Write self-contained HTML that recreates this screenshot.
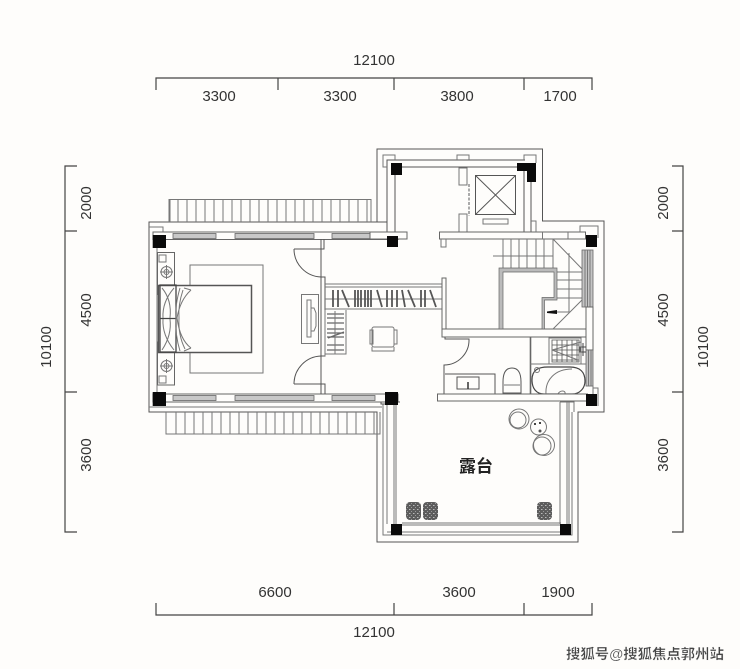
<!DOCTYPE html>
<html><head><meta charset="utf-8"><style>
html,body{margin:0;padding:0;background:#fefdfb;width:740px;height:669px;overflow:hidden}
svg{display:block}
text{font-family:"Liberation Sans","Noto Sans CJK SC",sans-serif;fill:#333;font-size:15px;text-anchor:middle}
.l{stroke:#555;stroke-width:1;fill:none}
.t{stroke:#777;stroke-width:1;fill:none}
.g{fill:#c8c8c8;stroke:#666;stroke-width:.8}
.w{fill:#fefdfb;stroke:#666;stroke-width:1}
.k{fill:#0a0a0a}
.d{stroke:#444;stroke-width:1.200;fill:none}
</style></head><body>
<svg width="740" height="669" viewBox="0 0 740 669" xmlns="http://www.w3.org/2000/svg">
<defs>
<pattern id="pl" width="4" height="4" patternUnits="userSpaceOnUse">
<rect width="4" height="4" fill="#5c5c5c"/><rect x="1" y="1" width="1.500" height="1" fill="#bbb"/><rect x="3" y="3" width="1" height="1" fill="#999"/>
</pattern>
</defs>
<!-- dimensions -->
<g class="d">
<path d="M156 90V78H592V90M278 78V90M394 78V90M524 78V90"/>
<path d="M156 603V615H592V603M394 603V615M524 603V615"/>
<path d="M77 166H65V532H77M65 231H77M65 392H77"/>
<path d="M672 166H683V532H672M672 231H683M672 392H683"/>
</g>
<text x="374" y="65">12100</text>
<text x="219" y="101">3300</text><text x="340" y="101">3300</text><text x="457" y="101">3800</text><text x="560" y="101">1700</text>
<text x="275" y="597">6600</text><text x="459" y="597">3600</text><text x="558" y="597">1900</text>
<text x="374" y="637">12100</text>
<g>
<text transform="translate(91,203) rotate(-90)">2000</text>
<text transform="translate(91,310) rotate(-90)">4500</text>
<text transform="translate(91,455) rotate(-90)">3600</text>
<text transform="translate(51,347) rotate(-90)">10100</text>
<text transform="translate(668,203) rotate(-90)">2000</text>
<text transform="translate(668,310) rotate(-90)">4500</text>
<text transform="translate(668,455) rotate(-90)">3600</text>
<text transform="translate(708,347) rotate(-90)">10100</text>
</g>

<!-- outer outline -->
<path class="l" d="M387 222H149V412H377V542H578V412H604V221H542.500V149H377V222"/>
<path class="t" d="M149 227H163V232M157 248V392M149 407H382"/>
<!-- upper balcony -->
<path class="t" d="M169 222V199.500H371V222M170 200V222"/>
<path class="t" d="M178 200V222M187 200V222M196 200V222M205 200V222M214 200V222M223 200V222M232 200V222M241 200V222M250 200V222M259 200V222M268 200V222M277 200V222M286 200V222M295 200V222M304 200V222M313 200V222M322 200V222M331 200V222M340 200V222M349 200V222M358 200V222M367 200V222"/>
<!-- lower balcony -->
<path class="t" d="M166 412V434H380V412"/>
<path class="t" d="M176 412V434M185 412V434M194 412V434M203 412V434M212 412V434M221 412V434M230 412V434M239 412V434M248 412V434M257 412V434M266 412V434M275 412V434M284 412V434M293 412V434M302 412V434M311 412V434M320 412V434M329 412V434M338 412V434M347 412V434M356 412V434M365 412V434M374 412V434"/>
<!-- bedroom windows -->
<rect x="153" y="232" width="245" height="7.500" class="w"/>
<rect x="173" y="233.500" width="43" height="5" class="g"/><rect x="235" y="233.500" width="79" height="5" class="g"/><rect x="332" y="233.500" width="43" height="5" class="g"/>
<rect x="153" y="394" width="245" height="8" class="w"/>
<rect x="173" y="395.500" width="43" height="5" class="g"/><rect x="235" y="395.500" width="79" height="5" class="g"/><rect x="332" y="395.500" width="43" height="5" class="g"/>
<!-- door wall -->
<path class="l" d="M321 239V394M321 249H324V239M321 277H325V356H321M321 384H325V394"/>
<path class="l" d="M294 249H321M294 249A28 28 0 0 0 321 277"/>
<path class="l" d="M294 384H321M294 384A28 28 0 0 1 321 356"/>
<!-- tv -->
<rect x="301.500" y="294.500" width="17" height="49" class="t"/>
<path class="t" d="M307 300H311V337H307ZM311 308H314L316 313V326L314 331H311"/>
<!-- rug -->
<rect x="190" y="265" width="73" height="108" class="t"/>
<rect x="157.500" y="252.500" width="17" height="42" class="w"/>
<rect x="157.500" y="342" width="17" height="43" class="w"/>
<rect x="159" y="255" width="7" height="7" class="t"/><rect x="159" y="376" width="7" height="7" class="t"/>
<circle cx="166.500" cy="272" r="5.500" class="t"/><circle cx="166.500" cy="272" r="2.500" class="t"/><path class="t" d="M160 272H173M166.500 265V279"/>
<circle cx="166.500" cy="366" r="5.500" class="t"/><circle cx="166.500" cy="366" r="2.500" class="t"/><path class="t" d="M160 366H173M166.500 359V373"/>
<!-- bed -->
<rect x="158.500" y="285.500" width="93" height="67" fill="#fefdfb" stroke="#555" stroke-width="1.500"/>
<path d="M160 285H176V352H160ZM160 318.500H176" fill="none" stroke="#444" stroke-width="1.300"/>
<path class="t" d="M162 288Q172 300 170 318M162 350Q172 335 170 319M174 288Q162 302 163 318M174 350Q162 335 163 319M180 288Q175 305 176 318Q175 335 180 351M191 290Q180 300 177 318Q180 340 191 348M184 288L191 290M184 351L191 348M183 290Q178 305 179 318Q178 335 185 349"/>
<!-- closets -->
<path class="t" d="M325 284H442M325 287H442M325 309H442M325 299H442"/>
<path d="M333 290V307M338 290V307M342 290L349 307M355 290V307M358 290V307M361 290V307M365 290V307M368 290V307M371 290V307M377 290L382 307M387 290V307M392 290V307M397 290V307M402 290L405 307M408 290L415 307M421 290V307M425 290V307M430 290L436 307" stroke="#555" stroke-width="1.800" fill="none"/>
<path class="t" d="M325 310V356M346 310V354H325"/>
<path d="M327 314H344M327 318H344M327 323H344M327 329H344M327 333H344M327 337H344M328 338L344 332M327 345H344M327 350H344" stroke="#666" stroke-width="1.300" fill="none"/>
<path class="t" d="M335 311V354"/>
<!-- chair -->
<rect x="372" y="327" width="22" height="20" rx="2" class="t"/>
<rect x="370" y="330" width="3" height="14" class="t"/><rect x="394" y="330" width="3" height="14" class="t"/>
<path class="t" d="M372 347V351H394V347"/>
<!-- corridor wall -->
<rect x="442" y="278" width="4" height="51" class="w"/>
<rect x="442" y="329" width="144" height="8" class="w"/>
<!-- core -->
<path class="l" d="M387 239V160H525M395 167V236M402 167H517M524 171V232M531 182V232"/>
<rect x="370" y="232" width="37" height="7" class="w"/>
<path class="t" d="M383 160V155H395V160M383 155V167H387M457 160V155H469V160M524 160V155H536V163"/>
<rect x="459" y="168" width="8" height="17" class="t"/>
<rect x="459" y="214" width="8" height="18" class="t"/>
<path d="M469 184V216" stroke="#aaa" stroke-width="2" stroke-dasharray="3 1.500"/>
<rect x="475.500" y="175.500" width="40" height="39" class="l"/>
<path class="l" d="M475.500 175.500L515.500 214.500M515.500 175.500L475.500 214.500"/>
<rect x="483" y="219" width="25" height="5" class="t"/>
<rect x="439.500" y="232" width="146" height="7" class="w"/>
<path class="t" d="M441 239V247H446V239M531 221H536V232M542.500 232V239M568 232V239"/>
<path class="t" d="M580 232V226H598V238"/>
<!-- stairs -->
<path class="t" d="M503 239V268M511 239V268M519 239V268M527 239V268M536 239V268M544 239V268M553 239V268M493 256H553M553 239L585 272M557 272H585M557 280H585M557 289H585M557 298H585"/>
<path class="t" d="M569 253V312M553 329L585 297"/>
<path d="M499 268H557V300H544.500V329H542V297.500H554V272H503V329H499Z" fill="#bbb" stroke="#666" stroke-width=".7"/>
<path d="M547 311.500L557 310V314L547 313Z" fill="#111"/><path class="t" d="M557 312H569"/>
<!-- right strip -->
<rect x="582" y="250" width="11" height="57" fill="#c4c4c4" stroke="#666" stroke-width=".8"/>
<path class="t" d="M585 250V307M587.500 250V307M590 250V307"/>
<rect x="586" y="307" width="7" height="43" class="w"/>
<rect x="586" y="350" width="7" height="36" fill="#c4c4c4" stroke="#666" stroke-width=".8"/>
<path class="t" d="M588.500 350V386M591 350V386"/>
<path class="t" d="M586 386H593V394M593 388H598V406"/>
<path d="M586 347H580V352H586M583 343V356" stroke="#444" fill="none"/>
<!-- bathroom -->
<path class="l" d="M445 337V339H469A25 25 0 0 1 444 365V394"/>
<path class="l" d="M445 374H495V394M457 377H479V389H457Z"/>
<path d="M468 382V389" stroke="#333" stroke-width="1.500"/>
<path class="l" d="M503 393H521V382C521 368 514 368 512 368S503 368 503 382Z"/>
<path class="t" d="M504 385H520"/>
<path d="M530.500 337V394" stroke="#666" stroke-width="1.600"/>
<path class="t" d="M530 364H586"/>
<rect x="549" y="338" width="32" height="26" class="t"/>
<path d="M552 340H579V362H552ZM552 345H579M552 350H579M552 355H579M552 360H579M557 340V362M562 340V362M567 340V362M572 340V362M577 340V362" stroke="#555" stroke-width=".8" fill="none"/>
<path class="t" d="M552 350L581 342M552 350L578 360"/>
<path d="M544 394C536 394 532 388 532 380C532 370 538 367 548 367H570C580 367 585 372 585 381C585 388 580 394 572 394Z" fill="#fefdfb" stroke="#444" stroke-width="1.200"/>
<path class="t" d="M546 394C545 380 555 369 572 369M558 394C560 390 566 390 565 394"/>
<circle cx="537" cy="370" r="2.500" class="t"/>
<rect x="437.500" y="394" width="150" height="7" class="w"/>
<!-- terrace -->
<path class="t" d="M383 404V535H572V412M387 404V524M394 405V524M396 405V524M402 523H561M402 525H561M387 532H561"/>
<path class="t" d="M560 402V524M567 402V524M569 402V524M560 402H574V412"/>
<path class="l" d="M381 402V404H388M400 402H392"/>
<circle cx="519" cy="419" r="10" class="t"/><circle cx="518" cy="420" r="8" class="t"/>
<circle cx="538.500" cy="427" r="8" class="t"/>
<circle cx="535" cy="424" r="1" class="k"/><circle cx="540" cy="423" r="1" class="k"/><circle cx="540" cy="431" r="1.500" fill="#555"/>
<circle cx="544" cy="445" r="10.500" class="t"/><circle cx="542" cy="446" r="9" class="t"/>
<g fill="url(#pl)"><rect x="406" y="502" width="15" height="18" rx="4"/><rect x="423" y="502" width="15" height="18" rx="4"/><rect x="537" y="502" width="15" height="18" rx="4"/></g>
<text x="476" y="472" style="font-size:17px;font-weight:bold;fill:#222">露台</text>
<!-- columns -->
<rect x="152.700" y="235" width="13.300" height="13" class="k"/>
<rect x="152.700" y="392" width="13.300" height="14" class="k"/>
<rect x="387" y="236" width="11" height="11" class="k"/>
<rect x="385" y="392" width="13" height="13" class="k"/>
<rect x="391" y="163" width="11" height="12" class="k"/>
<rect x="517" y="163" width="19" height="8" class="k"/>
<rect x="527" y="163" width="9" height="19" class="k"/>
<rect x="586" y="235" width="11" height="12" class="k"/>
<rect x="586" y="394" width="11" height="12" class="k"/>
<rect x="391" y="524" width="11" height="11" class="k"/>
<rect x="560" y="524" width="11" height="11" class="k"/>
<!-- watermark -->
<text x="645" y="659" style="font-size:14.400px;font-weight:bold;fill:#444;stroke:#fff;stroke-width:.3">搜狐号@搜狐焦点郭州站</text>
</svg>
</body></html>
